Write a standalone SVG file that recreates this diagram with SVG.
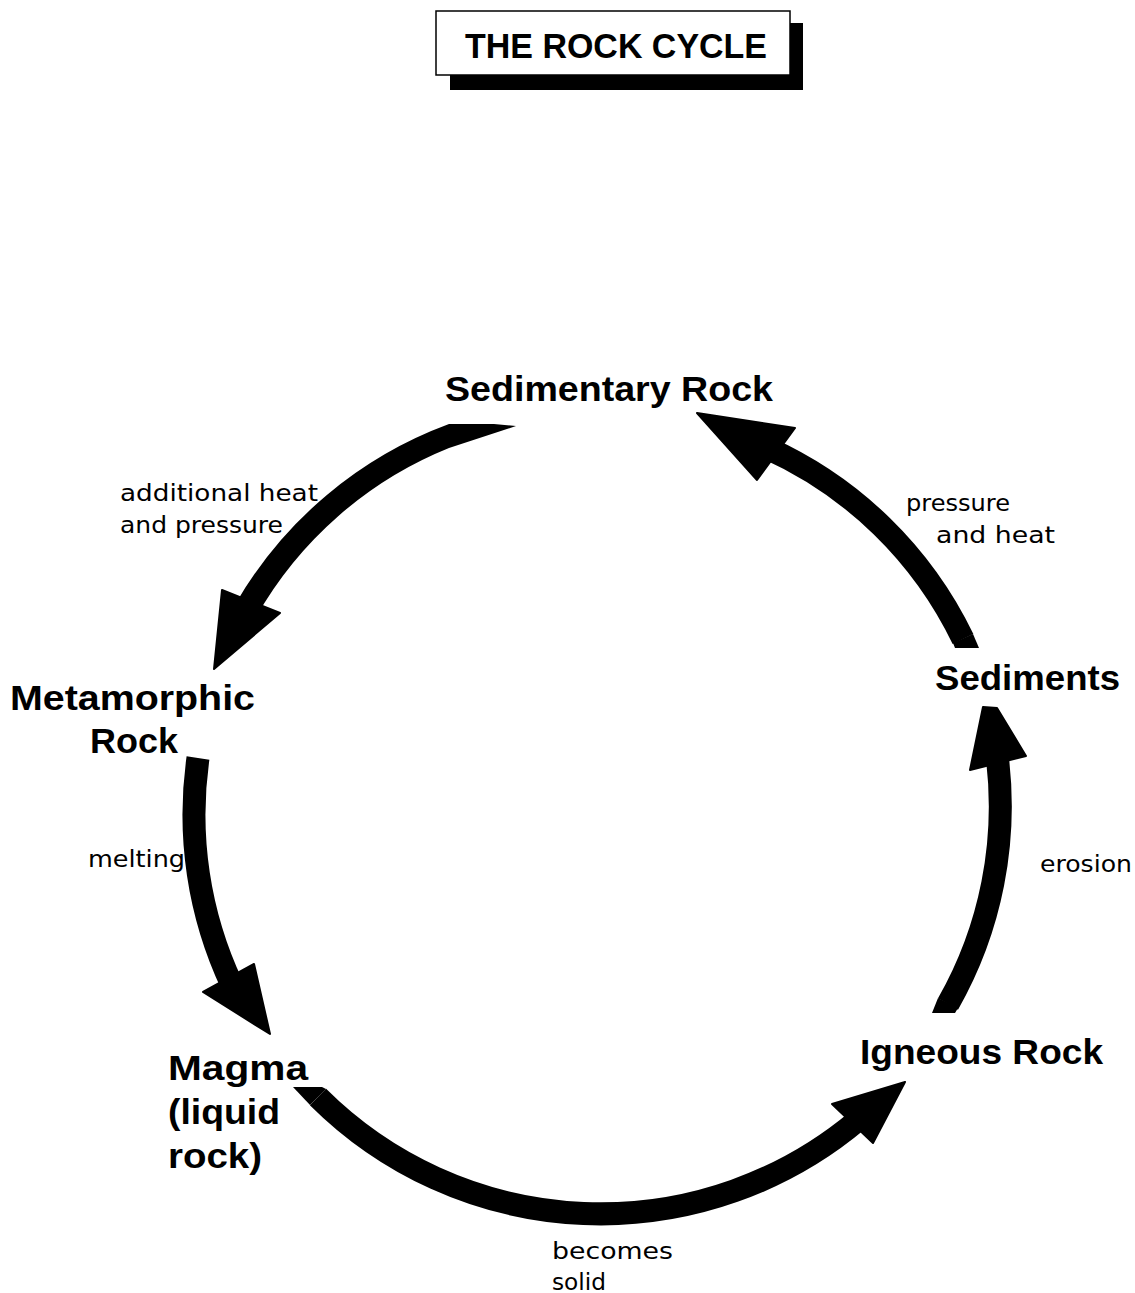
<svg xmlns="http://www.w3.org/2000/svg" width="1135" height="1293" viewBox="0 0 1135 1293">
<style>
.node{font-family:"Liberation Sans",Arial,sans-serif;font-weight:bold;font-size:35px;fill:#000}
.lbl{font-family:"DejaVu Sans","Liberation Sans",sans-serif;font-size:23px;fill:#000}
.shaft{fill:none;stroke:#000;stroke-width:23;stroke-linecap:butt}
.head{fill:#000;stroke:#000;stroke-width:2;stroke-linejoin:round}
</style>
<rect width="1135" height="1293" fill="#fff"/>
<g id="title">
<rect x="450" y="23" width="353" height="67" fill="#000"/>
<rect x="436" y="11" width="354" height="64" fill="#fff" stroke="#000" stroke-width="1.5"/>
<text class="node" x="465" y="58" textLength="302" lengthAdjust="spacingAndGlyphs">THE ROCK CYCLE</text>
</g>
<g id="node-sedimentary-rock"><text class="node" x="445" y="401" textLength="328" lengthAdjust="spacingAndGlyphs">Sedimentary Rock</text></g>
<g id="node-metamorphic-rock">
<text class="node" x="10" y="710" textLength="245" lengthAdjust="spacingAndGlyphs">Metamorphic</text>
<text class="node" x="90" y="753" textLength="88" lengthAdjust="spacingAndGlyphs">Rock</text>
</g>
<g id="node-sediments"><text class="node" x="935" y="690" textLength="185" lengthAdjust="spacingAndGlyphs">Sediments</text></g>
<g id="node-igneous-rock"><text class="node" x="860" y="1064" textLength="243" lengthAdjust="spacingAndGlyphs">Igneous Rock</text></g>
<g id="node-magma">
<text class="node" x="168" y="1080" textLength="140" lengthAdjust="spacingAndGlyphs">Magma</text>
<text class="node" x="168" y="1124" textLength="112" lengthAdjust="spacingAndGlyphs">(liquid</text>
<text class="node" x="168" y="1168" textLength="94" lengthAdjust="spacingAndGlyphs">rock)</text>
</g>
<g id="connectors">
<!-- Sedimentary -> Metamorphic -->
<path fill="#000" d="M516,426 L494,424 L449,424 A411,411 0 0,0 236,603 L256,617 A389,389 0 0,1 449,448 Z"/>
<polygon class="head" points="222,590 280,613 214,669"/>
<!-- Metamorphic -> Magma -->
<path class="shaft" d="M198,758 A400,400 0 0,0 232,985"/>
<polygon class="head" points="203,992 254,964 270,1034"/>
<!-- Magma -> Igneous -->
<path class="shaft" d="M318,1097 A400,400 0 0,0 858,1120"/>
<polygon fill="#000" points="293,1087 322,1087 326,1089 310,1105"/>
<polygon class="head" points="832,1104 873,1143 905,1082"/>
<!-- Igneous -> Sediments -->
<path class="shaft" d="M948,1004 A400,400 0 0,0 997,755"/>
<polygon fill="#000" points="932,1013 955,1013 958,1008 938,998"/>
<polygon class="head" points="970,770 983,707 997,708 1026,756"/>
<!-- Sediments -> Sedimentary -->
<path class="shaft" d="M963,639 A400,400 0 0,0 767,448"/>
<polygon fill="#000" points="955,648 979,648 973,634 953,643"/>
<polygon class="head" points="697,413 795,428 757,480"/>
</g>
<g id="labels">
<text class="lbl" x="120" y="501" textLength="198" lengthAdjust="spacingAndGlyphs">additional heat</text>
<text class="lbl" x="120" y="533" textLength="163" lengthAdjust="spacingAndGlyphs">and pressure</text>
<text class="lbl" x="906" y="511" textLength="104" lengthAdjust="spacingAndGlyphs">pressure</text>
<text class="lbl" x="936" y="543" textLength="119" lengthAdjust="spacingAndGlyphs">and heat</text>
<text class="lbl" x="88" y="867" textLength="97" lengthAdjust="spacingAndGlyphs">melting</text>
<text class="lbl" x="1040" y="872" textLength="92" lengthAdjust="spacingAndGlyphs">erosion</text>
<text class="lbl" x="552" y="1259" textLength="121" lengthAdjust="spacingAndGlyphs">becomes</text>
<text class="lbl" x="552" y="1290" textLength="54" lengthAdjust="spacingAndGlyphs">solid</text>
</g>
</svg>
